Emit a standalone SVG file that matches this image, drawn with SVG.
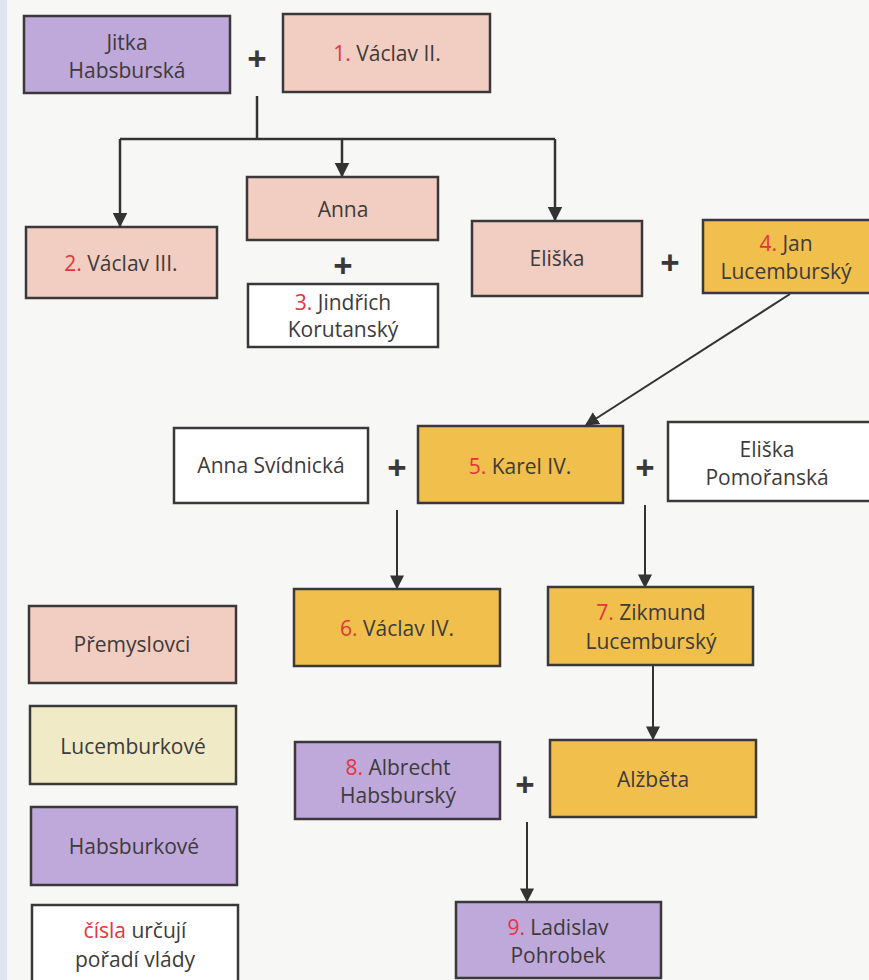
<svg xmlns="http://www.w3.org/2000/svg" width="869" height="980" viewBox="0 0 869 980">
<defs>
<style>
.box{stroke:#3a3838;stroke-width:2.5}
.pr{fill:#f2cdc1}
.lu{fill:#f0bf4c}
.ha{fill:#bfa8da}
.wh{fill:#ffffff}
.ly{fill:#f0ebc6}
text{font-family:"Open Sans","Noto Sans","Liberation Sans",sans-serif;font-size:21px;fill:#3d3b3b;text-anchor:middle}
.n{fill:#e4343d}
.plus{font-size:34px;font-weight:bold;fill:#3a3838}
.con{stroke:#333;stroke-width:2.5;fill:none}
.con2{stroke:#333;stroke-width:2;fill:none}
</style>
<marker id="ah" viewBox="0 0 10 10" refX="9" refY="5" markerWidth="6" markerHeight="6" orient="auto" markerUnits="strokeWidth">
<path d="M0,0 L10,5 L0,10 z" fill="#333"/>
</marker>
<marker id="ah2" viewBox="0 0 10 10" refX="9" refY="5" markerWidth="7" markerHeight="7" orient="auto" markerUnits="strokeWidth">
<path d="M0,0 L10,5 L0,10 z" fill="#333"/>
</marker>
</defs>
<rect x="0" y="0" width="869" height="980" fill="#f7f7f6"/>
<rect x="0" y="0" width="7" height="980" fill="#dfe4ee"/>

<g id="connectors">
<path class="con" d="M257,96 V139"/>
<path class="con" d="M120,139 H555"/>
<path class="con" d="M120,139 V226" marker-end="url(#ah)"/>
<path class="con" d="M342,139 V176" marker-end="url(#ah)"/>
<path class="con" d="M555,139 V220" marker-end="url(#ah)"/>
<path class="con2" d="M790,294 L586,425" marker-end="url(#ah2)"/>
<path class="con2" d="M397,510 V588" marker-end="url(#ah2)"/>
<path class="con2" d="M645,505 V587" marker-end="url(#ah2)"/>
<path class="con2" d="M653,665 V739" marker-end="url(#ah2)"/>
<path class="con2" d="M527,822 V901" marker-end="url(#ah2)"/>
</g>

<g id="jitka"><rect class="box ha" x="24" y="16" width="206" height="77"/><text x="127" y="50">Jitka</text><text x="127" y="78">Habsburská</text></g>
<text class="plus" x="257" y="71">+</text>
<g id="vaclav2"><rect class="box pr" x="283" y="14" width="207" height="78"/><text x="387" y="61"><tspan class="n">1.</tspan> Václav II.</text></g>

<g id="vaclav3"><rect class="box pr" x="26" y="227" width="191" height="71"/><text x="121" y="271"><tspan class="n">2.</tspan> Václav III.</text></g>
<g id="anna"><rect class="box pr" x="247" y="177" width="191" height="63"/><text x="343" y="217">Anna</text></g>
<text class="plus" x="343" y="278">+</text>
<g id="jindrich"><rect class="box wh" x="248" y="284" width="190" height="63"/><text x="343" y="310"><tspan class="n">3.</tspan> Jindřich</text><text x="343" y="337">Korutanský</text></g>
<g id="eliska"><rect class="box pr" x="472" y="221" width="170" height="75"/><text x="557" y="266">Eliška</text></g>
<text class="plus" x="670" y="275">+</text>
<g id="jan"><rect class="box lu" x="703" y="220" width="168" height="73"/><text x="786" y="251"><tspan class="n">4.</tspan> Jan</text><text x="786" y="279">Lucemburský</text></g>

<g id="annasv"><rect class="box wh" x="174" y="428" width="194" height="75"/><text x="271" y="473">Anna Svídnická</text></g>
<text class="plus" x="397" y="480">+</text>
<g id="karel"><rect class="box lu" x="418" y="426" width="205" height="77"/><text x="520" y="474"><tspan class="n">5.</tspan> Karel IV.</text></g>
<text class="plus" x="645" y="480">+</text>
<g id="eliskapom"><rect class="box wh" x="668" y="422" width="203" height="79"/><text x="767" y="457">Eliška</text><text x="767" y="485">Pomořanská</text></g>

<g id="vaclav4"><rect class="box lu" x="294" y="589" width="206" height="77"/><text x="397" y="636"><tspan class="n">6.</tspan> Václav IV.</text></g>
<g id="zikmund"><rect class="box lu" x="548" y="587" width="205" height="78"/><text x="651" y="620"><tspan class="n">7.</tspan> Zikmund</text><text x="651" y="649">Lucemburský</text></g>

<g id="albrecht"><rect class="box ha" x="295" y="742" width="205" height="77"/><text x="398" y="775"><tspan class="n">8.</tspan> Albrecht</text><text x="398" y="803">Habsburský</text></g>
<text class="plus" x="525" y="797">+</text>
<g id="alzbeta"><rect class="box lu" x="550" y="740" width="206" height="77"/><text x="653" y="787">Alžběta</text></g>

<g id="ladislav"><rect class="box ha" x="456" y="902" width="205" height="76"/><text x="558" y="935"><tspan class="n">9.</tspan> Ladislav</text><text x="558" y="963">Pohrobek</text></g>

<g id="legend-premyslovci"><rect class="box pr" x="29" y="606" width="207" height="77"/><text x="132" y="652">Přemyslovci</text></g>
<g id="legend-lucemburkove"><rect class="box ly" x="30" y="706" width="206" height="78"/><text x="133" y="754">Lucemburkové</text></g>
<g id="legend-habsburkove"><rect class="box ha" x="31" y="807" width="206" height="78"/><text x="134" y="854">Habsburkové</text></g>
<g id="legend-cisla"><rect class="box wh" x="32" y="905" width="206" height="80"/><text x="135" y="938"><tspan class="n">čísla</tspan> určují</text><text x="135" y="967">pořadí vlády</text></g>
</svg>
